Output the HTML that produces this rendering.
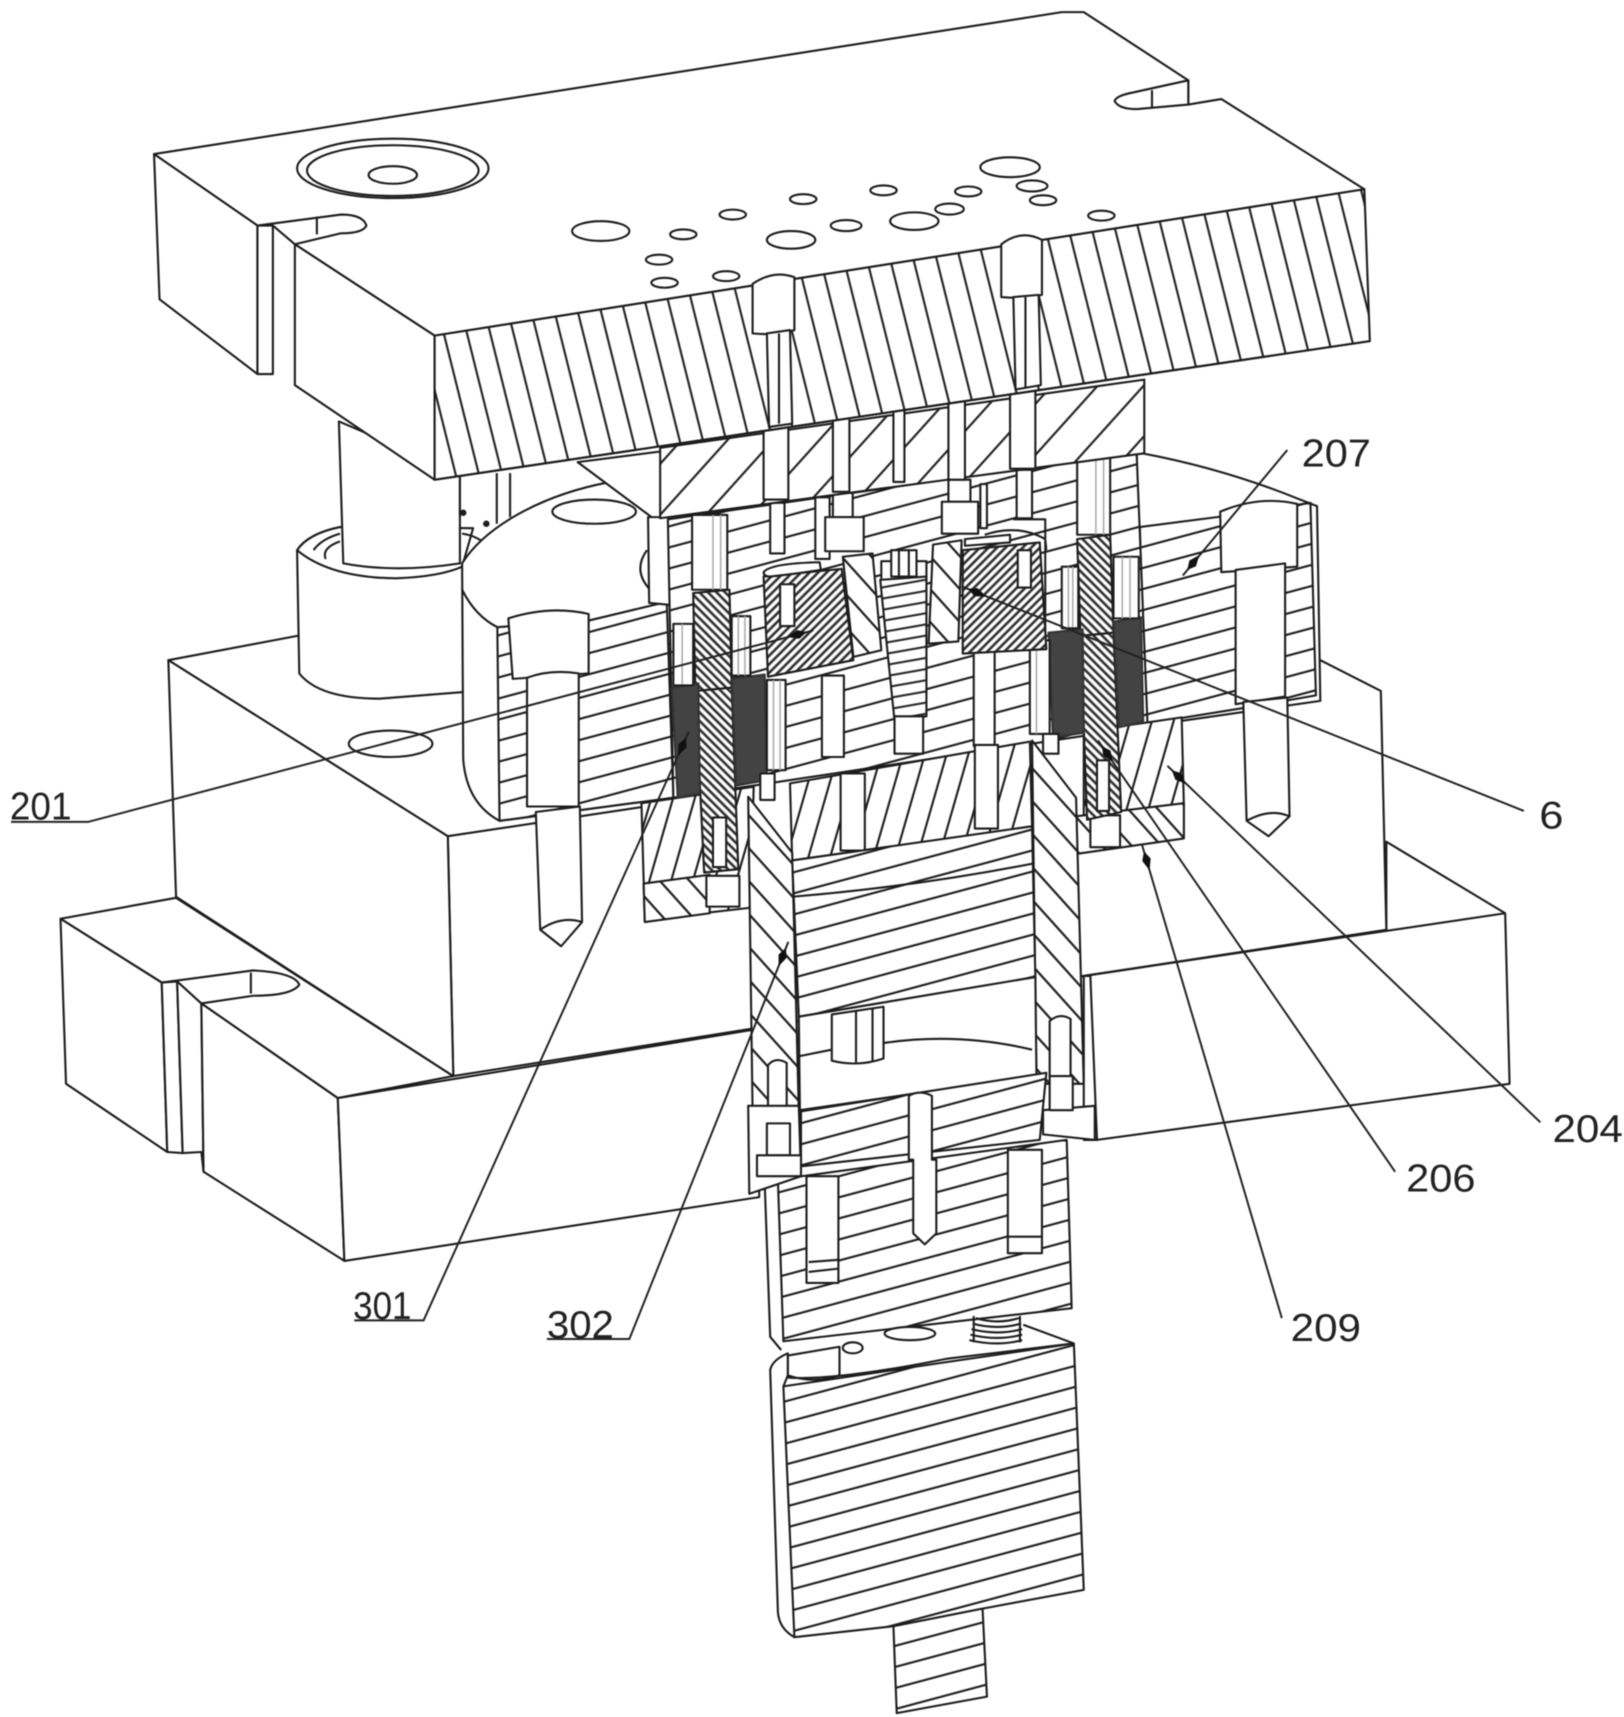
<!DOCTYPE html>
<html><head><meta charset="utf-8"><style>
html,body{margin:0;padding:0;background:#fff}
svg{display:block;filter:blur(.4px)}
.s *,.s{stroke:#1c1c1c;stroke-width:1.9;stroke-linejoin:round;fill:#fff}
.s .n{fill:none}
.s .a{fill:url(#a)}.s .b{fill:url(#b)}.s .c{fill:url(#c)}.s .d{fill:url(#d)}.s .e{fill:url(#e)}.s .e2{fill:url(#e2)}
.s .g{fill:url(#g)}.s .h9{fill:url(#h9)}.s .k{fill:#434343;stroke:#333}.s .t{stroke:#aaa;stroke-width:1.4;fill:none}
.l{stroke:#222;stroke-width:1.8;fill:none}
.h{fill:#111;stroke:none}
text{font-family:"Liberation Sans",sans-serif;font-size:35px;fill:#222}
</style></head><body>
<svg width="1624" height="1717" viewBox="0 0 1476 1560.5" xmlns="http://www.w3.org/2000/svg">
<defs>
<pattern id="a" width="18.5" height="18.5" patternUnits="userSpaceOnUse" patternTransform="rotate(-15)"><rect width="18.5" height="18.5" fill="#fff"/><line x1="0" y1="9" x2="18.5" y2="9" stroke="#1c1c1c" stroke-width="1.9"/></pattern>
<pattern id="b" width="31" height="31" patternUnits="userSpaceOnUse" patternTransform="rotate(-48)"><rect width="31" height="31" fill="#fff"/><line x1="0" y1="15" x2="31" y2="15" stroke="#1c1c1c" stroke-width="1.9"/></pattern>
<pattern id="c" width="20.5" height="20.5" patternUnits="userSpaceOnUse" patternTransform="rotate(76)"><rect width="20.5" height="20.5" fill="#fff"/><line x1="0" y1="10" x2="20.5" y2="10" stroke="#1c1c1c" stroke-width="1.9"/></pattern>
<pattern id="d" width="20" height="20" patternUnits="userSpaceOnUse" patternTransform="rotate(48)"><rect width="20" height="20" fill="#fff"/><line x1="0" y1="10" x2="20" y2="10" stroke="#1c1c1c" stroke-width="1.9"/></pattern>
<pattern id="e" width="5.5" height="5.5" patternUnits="userSpaceOnUse" patternTransform="rotate(45)"><rect width="5.5" height="5.5" fill="#fff"/><line x1="0" y1="2.7" x2="5.5" y2="2.7" stroke="#333" stroke-width="2.4"/></pattern>
<pattern id="e2" width="5.5" height="5.5" patternUnits="userSpaceOnUse" patternTransform="rotate(-45)"><rect width="5.5" height="5.5" fill="#fff"/><line x1="0" y1="2.7" x2="5.5" y2="2.7" stroke="#333" stroke-width="2.4"/></pattern>
<pattern id="g" width="19" height="19" patternUnits="userSpaceOnUse" patternTransform="rotate(-74)"><rect width="19" height="19" fill="#fff"/><line x1="0" y1="9" x2="19" y2="9" stroke="#1c1c1c" stroke-width="1.9"/></pattern>
<pattern id="h9" width="10" height="10" patternUnits="userSpaceOnUse" patternTransform="rotate(-10)"><rect width="10" height="10" fill="#fff"/><line x1="0" y1="5" x2="10" y2="5" stroke="#1c1c1c" stroke-width="1.8"/></pattern>
</defs>
<rect width="1476" height="1561" fill="#fff"/>
<g class="s">
<!-- base -->
<path d="M55,835 L160,816 L412,978 L307,998 L183,912 L230,905 Q265,905 272,895 Q268,884 230,882 L147,893 Z"/>
<path d="M55,835 L147,893 L152,1047 L60,985 Z"/>
<path d="M147,893 L161,892 L166,1048 L152,1047 Z"/>
<path d="M161,892 L183,912 L185,1065 L183,1047 L166,1048 Z"/>
<path d="M183,912 L307,998 L313,1146 L185,1065 Z"/>
<path d="M307,998 L690,935 L690,1088 L313,1146 Z"/>
<path class="n" d="M228,884 L228,903"/>
<path d="M985,887 L1260,845 L1260,765 L1368,830 L1372,985 L997,1036 Z"/>
<!-- block -->
<path d="M153,600 L275,577 L1200,600 L1255,628 L1260,845 L985,887 L412,978 L407,760 Z"/>
<path d="M153,600 L407,760 L412,978 L160,815 Z"/>
<path class="n" d="M407,760 L620,728 M985,887 L1368,830"/>
<ellipse cx="355" cy="676" rx="38" ry="12"/>
<!-- bushing and post -->
<path d="M270,500 L272,612 Q290,635 345,635 L421,629 L420,480 L309,479 Q280,485 270,500 Z"/>
<path d="M270,500 Q300,525 360,525.6 Q400,524 420,515 L430,480 L309,479 Q280,485 270,500 Z"/>
<path class="n" d="M285,500 Q292,490 309,485 M296,508 Q292,498 309,492 M420,485 Q435,487 445,498 L422,512"/>
<path d="M308,383 L312,512 Q360,521 418,512 L418,430 Z"/>
<path class="n" d="M418,435 L418,470 M451.5,430 L451.5,476 M463.6,430 L463.6,470"/>
<circle cx="421" cy="466" r="2" style="fill:#222"/><circle cx="442" cy="476" r="2" style="fill:#222"/>
<!-- flange left -->
<path d="M420,512 C440,480 490,450 555,438 L603,478 L612,725 L454,746 Q424,730 421,690 Z"/>
<path d="M525,420 L603,410 L603,478 Z"/>
<ellipse cx="540" cy="465" rx="38" ry="11"/>
<path class="n" d="M420,536 Q432,560 452,570 M588,500 Q575,518 590,535"/>
<path class="a" d="M452,570 L535,564 L606,547 L612,725 L454,746 Z"/>
<!-- flange right -->
<path d="M1033,411 Q1110,425 1179,453 L1197,460 L1200,637 L1040,660 Z"/>
<path class="a" d="M1036,479 L1106,470 L1191,457 L1196,632 L1127,644 L1040,658 Z"/>
<!-- central section -->
<path d="M589,470 L608,470 L612,550 L590,548 Z"/>
<path class="a" d="M607,472 L1033,411 L1043,660 L612,725 Z"/>
<!-- collars -->
<path class="g" d="M583,730 L685,715 L682,825 L586,836 Z"/>
<path class="g" d="M985,665 L1074,652 L1076,733 L985,745 Z"/>
<path class="d" d="M585,803 L645,795 L645,830 L586,838 Z"/>
<path class="d" d="M977,742 L1076,730 L1076,762 L979,776 Z"/>
<rect x="642" y="796" width="30" height="28"/>
<rect x="991" y="741" width="27" height="29"/>
<!-- bars -->
<path class="e" d="M630,539 L663,536 L665,625 L632,628 Z"/>
<path class="e" d="M632,628 L665,625 L671,790 L640,793 Z"/>
<path class="e" d="M979,490 L1009,486 L1012,575 L982,578 Z"/>
<path class="e" d="M982,578 L1012,575 L1019,738 L988,745 Z"/>
<rect x="648" y="743" width="12" height="45"/>
<rect x="997" y="691" width="11" height="46"/>
<path class="k" d="M610.5,625 L634.7,621 L636,721 L616,725 Z"/>
<path class="k" d="M665,617 L695,613 L697,709 L669,714 Z"/>
<path class="k" d="M953,575 L984,572 L985,666 L957,670 Z"/>
<path class="k" d="M1012,565 L1037,561 L1039,656 L1017,661 Z"/>
<!-- pin reliefs -->
<rect x="629" y="468" width="32" height="68"/>
<path class="t" d="M648,468 V536 M655,468 V536"/>
<rect x="979" y="415" width="30" height="71"/>
<path class="t" d="M996,415 V486 M1003,415 V486"/>
<rect x="665" y="560" width="17" height="54"/>
<path class="t" d="M671,560 V614 M677,560 V614"/>
<rect x="1012" y="506" width="23" height="56"/>
<path class="t" d="M1020,506 V562 M1027,506 V562"/>
<rect x="612" y="567" width="18" height="56"/>
<path class="t" d="M620,567 V622"/>
<rect x="697" y="618" width="17" height="82"/>
<path class="t" d="M703,618 V700 M709,618 V700"/>
<rect x="965" y="515" width="15" height="56"/>
<path class="t" d="M971,515 V570 M975,515 V570"/>
<rect x="936" y="582" width="18" height="85"/>
<path class="t" d="M942,582 V667"/>
<rect x="948" y="667" width="14" height="18"/>
<rect x="747" y="614" width="20" height="74"/>
<rect x="885" y="591" width="19" height="87"/>
<!-- centre -->
<rect x="700" y="457" width="13" height="46"/>
<rect x="741" y="452" width="13" height="56"/>
<rect x="757" y="448" width="18" height="22"/>
<rect x="750" y="470" width="35" height="31"/>
<rect x="862" y="436" width="20" height="20"/>
<rect x="856" y="456" width="33" height="29"/>
<rect x="891" y="440" width="6" height="40"/>
<rect x="924" y="427" width="14" height="44"/>
<path class="n" d="M895,486 Q925,476 950,490 L951,500 M921,472 H950 V590"/>
<rect x="801" y="510" width="41" height="18"/>
<rect x="810" y="500" width="23" height="24"/>
<path class="n" d="M817,500 V524 M826,500 V524"/>
<path class="h9" d="M800,527 L842,524 L842,651 L813,655 Z"/>
<rect x="813" y="651" width="26" height="34"/>
<path class="d" d="M766,506 L793,503 L801,591 L775.6,597 Z"/>
<path class="d" d="M848,495 L874,491 L871,583 L844,585 Z"/>
<path class="e2" d="M694,524 L765,517 L775.6,600 L698,615 Z"/>
<path class="e2" d="M875,500 L945,493 L951,590 L875,594 Z"/>
<path d="M694,520 Q700,512 745,511 L746,518 Q720,522 700,524 Q694,524 694,520 Z"/>
<path d="M877,490 L918,486 L918,493 L877,496 Z"/>
<rect x="709" y="531" width="13" height="38"/>
<rect x="925" y="500" width="12" height="34"/>
<!-- steep lower section -->
<path class="g" d="M718,712 L936,674 L938,751 L720,782 Z"/>
<rect x="886" y="677" width="21" height="76"/>
<rect x="764" y="703" width="22" height="70"/>
<rect x="691" y="703" width="13" height="24"/>
<!-- column walls -->
<path class="d" d="M680,724 L720,775 L726,1010 L684,1010 Z"/>
<path class="d" d="M938,673 L978,725 L985,985 L942,985 Z"/>
<path d="M985,887 L991,887 L997,1036 L985,1036 Z"/>
<path class="a" d="M720,782 L938,751 L941,888 L726,924 Z"/>
<path class="n" d="M720,815 Q830,806 938,785"/>
<path d="M726,924 L941,888 L942,978 L727,1009 Z"/>
<path class="n" d="M726,960 L756,954 M803,948 Q870,938 938,954"/>
<path d="M756,922 L803,915 L803,962 Q780,970 756,964 Z"/>
<path class="n" d="M778,918 V966 M793,916 V964"/>
<path d="M954,928 Q963,920 973,926 L973,978 L954,978 Z"/>
<path d="M698,968 Q705,960 715,966 L715,1022 L698,1022 Z"/>
<!-- lower parts -->
<path class="a" d="M707,1072 L969.5,1036 L974,1189 L712,1219 Z"/>
<path class="n" d="M695,1075 L700,1215 L710,1227"/>
<path class="a" d="M728,1010 L951,975 L945,1036 L728,1060 Z"/>
<path d="M680,1005 L726,1005 L728,1069 L681,1085 Z"/>
<path d="M948,1009 L995,1005 L995,1036 L948,1031 Z"/>
<rect x="697" y="1021" width="21" height="29"/>
<rect x="688" y="1050" width="40" height="19"/>
<rect x="954" y="978" width="21" height="31"/>
<path d="M826,996 Q836,990 847,996 V1054 L851,1054 V1121 L840.5,1131 L830,1121 V1054 H826 Z"/>
<rect x="733" y="1069" width="29" height="97"/>
<rect x="916" y="1045" width="31" height="94"/>
<path class="n" d="M916,1124 H947 M735,1147 L762,1145 M735,1156 L762,1153"/>
<!-- gap -->
<path d="M716,1232 L763,1224 L763,1250 Q740,1258 716,1250 Z"/>
<ellipse cx="827" cy="1212" rx="23" ry="6"/>
<path class="n" d="M887,1198 Q906,1204 926,1198 M884,1203 Q906,1209 928,1203 M883,1208 Q906,1214 929,1208 M882,1213 Q906,1219 929,1213 M881,1218 Q906,1224 929,1218 M885,1196 V1220 M927,1196 V1220"/>
<ellipse cx="775" cy="1225" rx="9" ry="5"/>
<!-- bottom body -->
<path class="n" d="M930,1204 L976,1221 M716,1252 Q760,1255 860,1235 L976,1221"/>
<path class="a" d="M712,1260 L860,1238 L976,1221 L985,1445 L893,1462 L812,1478 L722,1488 Q714,1482 714,1465 Z"/>
<path class="a" d="M812,1478 L893,1462 L897,1542 L815,1557 Z"/>
<path d="M700,1245 Q702,1236 716,1230 L716,1250 L712,1260 L722,1488 Q708,1480 707,1465 Z"/>
<!-- top plate -->
<path d="M140,140 L965,11 L985,11 L1080,73 L1080,95 L1110,90 L1240,172 L395,305 L268,222 L310,212 Q330,212 333,205 Q330,195 310,195 L234,205 Z"/>
<path d="M1080,73 L1030,84 Q1014,87 1013,92 Q1018,100 1035,99 L1080,95 Z"/>
<path class="n" d="M1047,82 V98"/>
<path d="M140,140 L234,205 L234,340 L145,272 Z"/>
<path d="M234,205 L248,205 L248,340 L234,340 Z"/>
<path d="M268,222 L395,305 L395,436 L268,350 Z"/>
<path class="n" d="M248,205 L268,222 M288,197 V213"/>
<ellipse cx="357" cy="153" rx="87" ry="27"/><ellipse cx="357" cy="155" rx="78" ry="23"/>
<ellipse cx="357" cy="159" rx="22" ry="8"/>
<ellipse cx="546" cy="210" rx="26" ry="9"/>
<ellipse cx="621" cy="213" rx="12" ry="4.5"/>
<ellipse cx="666" cy="195" rx="12" ry="4.5"/>
<ellipse cx="730" cy="181" rx="12" ry="4.5"/>
<ellipse cx="803" cy="173" rx="12" ry="4.5"/>
<ellipse cx="880" cy="174" rx="12" ry="4.5"/>
<ellipse cx="918" cy="152" rx="27" ry="9"/>
<ellipse cx="938" cy="169" rx="14" ry="5"/>
<ellipse cx="948" cy="182" rx="12" ry="4.5"/>
<ellipse cx="863" cy="190" rx="13" ry="5"/>
<ellipse cx="831" cy="201" rx="22" ry="8"/>
<ellipse cx="769" cy="205" rx="14" ry="5"/>
<ellipse cx="719" cy="218" rx="22" ry="8"/>
<ellipse cx="599" cy="236" rx="12" ry="4.5"/>
<ellipse cx="604" cy="257" rx="12" ry="4.5"/>
<ellipse cx="660" cy="251" rx="12" ry="4.5"/>
<ellipse cx="1001" cy="196" rx="12" ry="4.5"/>
<!-- hatched block under plate -->
<path class="b" d="M600,407 L1040,345 L1040,412 L600,471 Z"/>
<rect x="694" y="380" width="22.5" height="74"/>
<rect x="757" y="372" width="15" height="75"/>
<rect x="812" y="370" width="10" height="68"/>
<rect x="862" y="360" width="15" height="76"/>
<rect x="918" y="350" width="23" height="76"/>
<path class="c" d="M395,305 L1240,172 L1245,310 L395,436 Z"/>
<path d="M684,258 Q703,245 722,252 L722,300 Q703,305 684,303 Z"/>
<path d="M910,222 Q928,208 947,218 L947,268 Q930,272 910,270 Z"/>
<path d="M697,303 L718,300 L720,385 L699,388 Z"/>
<path d="M921,270 L944,268 L946,350 L923,354 Z"/>
<path class="n" d="M708,303 V385 M932,270 V352"/>
<path class="n" d="M395,436 L1245,310"/>
<!-- bolts -->
<path d="M462,562 Q500,550 535,558 L535,612 L466,617 Z"/>
<path d="M479,616 Q500,608 526,612 V733 H479 Z"/>
<path d="M487,738 L527,733 L529,838 L510,860 L491,845 Z"/>
<path class="n" d="M491,845 Q510,832 529,838"/>
<path d="M1109,465 Q1145,450 1179,458 L1179,515 L1110,520 Z"/>
<path d="M1123,518 L1168,512 V633 L1123,640 Z"/>
<path d="M1130,638 L1170,634 L1172,742 L1153,760 L1133,746 Z"/>
<path class="n" d="M1133,746 Q1155,734 1172,742"/>
</g>
<!-- leaders -->
<g class="l">
<path d="M1170,409 L1075,523"/>
<path d="M1385,737 L874,533"/>
<path d="M10,747 H80 L739,573"/>
<path d="M1400,1020 L1061,696"/>
<path d="M1268,1065 L998,673"/>
<path d="M1165,1198 L1038,768"/>
<path d="M322,1200 H385 L626,665"/>
<path d="M497,1217 H572 L716.5,856"/>
</g>
<g class="h">
<path d="M1079,518 L1087,514.6 L1090,504.5 L1081,509.4 Z"/>
<path d="M880,535 L885.5,542 L896.3,542 L888.5,534.5 Z"/>
<path d="M733,574.5 L726.5,580.5 L715.8,579 L724.5,572.7 Z"/>
<path d="M1065,700 L1068.2,708.6 L1078,712.6 L1073.8,702.8 Z"/>
<path d="M1001.4,678 L1002.7,686.8 L1011.6,692.8 L1009.3,682.2 Z"/>
<path d="M1039.7,773.8 L1038.2,782.5 L1044.8,791 L1045.8,780.3 Z"/>
<path d="M623.5,670.5 L624,679.4 L616.2,686.9 L616.6,676.2 Z"/>
<path d="M714.3,861.6 L715,870.5 L707.6,878.3 L707.6,867.5 Z"/>
</g>
<text x="1183" y="424" textLength="63" lengthAdjust="spacingAndGlyphs">207</text>
<text x="1399" y="753" textLength="22" lengthAdjust="spacingAndGlyphs">6</text>
<text x="9" y="745" textLength="56" lengthAdjust="spacingAndGlyphs">201</text>
<text x="1411" y="1038" textLength="64" lengthAdjust="spacingAndGlyphs">204</text>
<text x="1278" y="1083" textLength="63" lengthAdjust="spacingAndGlyphs">206</text>
<text x="1173" y="1219" textLength="64" lengthAdjust="spacingAndGlyphs">209</text>
<text x="321" y="1199" textLength="53" lengthAdjust="spacingAndGlyphs">301</text>
<text x="497" y="1216" textLength="61" lengthAdjust="spacingAndGlyphs">302</text>
</svg>
</body></html>
